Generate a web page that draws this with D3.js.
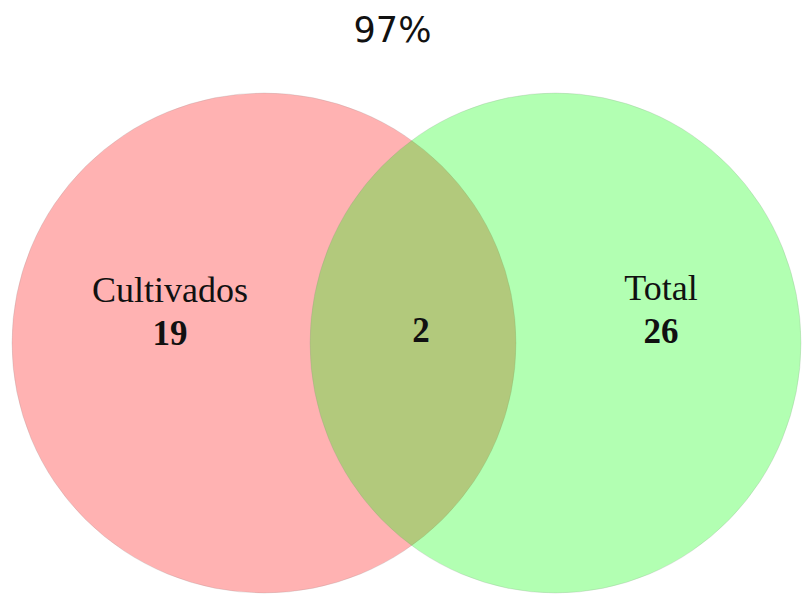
<!DOCTYPE html>
<html lang="es">

<head>
  <meta charset="UTF-8" />
  <script src="https://d3js.org/d3.v7.min.js"></script>
  <style>
    body {
      margin: 0;
      background: #fff;
    }

    .title {
      font-family: "DejaVu Sans", Verdana, sans-serif;
    }

    .setname,
    .count {
      font-family: "Liberation Serif", "Times New Roman", serif;
    }

    .count {
      font-weight: bold;
    }
  </style>
</head>

<body>
  <svg id="venn" width="803" height="594"></svg>

  <script>
    // data
    const title = "97%";
    const setNames = ["Cultivados", "Total"];
    const onlyCounts = [19, 26];
    const sharedCount = 2;
    const setColors = ["#ff0000", "#00ff00"];

    const svg = d3.select("#venn");
    const width = +svg.attr("width");
    const height = +svg.attr("height");

    const cy = 343;
    // set shape centres and radii (the picture is slightly squeezed sideways)
    const xScale = d3.scalePoint().domain(setNames).range([264, 555.5]);
    const rxScale = d3.scaleOrdinal().domain(setNames).range([252, 245.5]);
    const ryScale = d3.scaleOrdinal().domain(setNames).range([250, 250]);
    const colorScale = d3.scaleOrdinal().domain(setNames).range(setColors);
    // label positions per set
    const labelX = d3.scaleOrdinal().domain(setNames).range([170, 661]);

    const shapes = svg.append("g").attr("id", "circles");
    shapes.selectAll("ellipse")
      .data(setNames)
      .join("ellipse")
      .attr("cx", d => xScale(d))
      .attr("cy", cy)
      .attr("rx", d => rxScale(d))
      .attr("ry", d => ryScale(d))
      .attr("fill", d => colorScale(d))
      .attr("fill-opacity", 0.3)
      .attr("stroke", "#888")
      .attr("stroke-opacity", 0.2)
      .attr("stroke-width", 1);

    svg.append("text")
      .attr("class", "title")
      .attr("x", width / 2 - 9)
      .attr("y", 42)
      .attr("text-anchor", "middle")
      .attr("font-size", "35px")
      .attr("fill", "#111")
      .text(title);

    const labels = svg.append("g").attr("id", "labels");
    setNames.forEach((name, i) => {
      labels.append("text")
        .attr("class", "setname")
        .attr("x", labelX(name))
        .attr("y", i == 0 ? 302 : 300)
        .attr("text-anchor", "middle")
        .attr("font-size", "36px")
        .attr("fill", "#111")
        .text(name);
      labels.append("text")
        .attr("class", "count")
        .attr("x", labelX(name))
        .attr("y", i == 0 ? 345 : 343)
        .attr("text-anchor", "middle")
        .attr("font-size", "35px")
        .attr("fill", "#111")
        .text(onlyCounts[i]);
    });

    // overlap count sits in the middle of the lens
    const lensLeft = xScale(setNames[1]) - rxScale(setNames[1]);
    const lensRight = xScale(setNames[0]) + rxScale(setNames[0]);
    labels.append("text")
      .attr("class", "count")
      .attr("x", (lensLeft + lensRight) / 2 + 8)
      .attr("y", 342)
      .attr("text-anchor", "middle")
      .attr("font-size", "35px")
      .attr("fill", "#111")
      .text(sharedCount);
  </script>
</body>

</html>
